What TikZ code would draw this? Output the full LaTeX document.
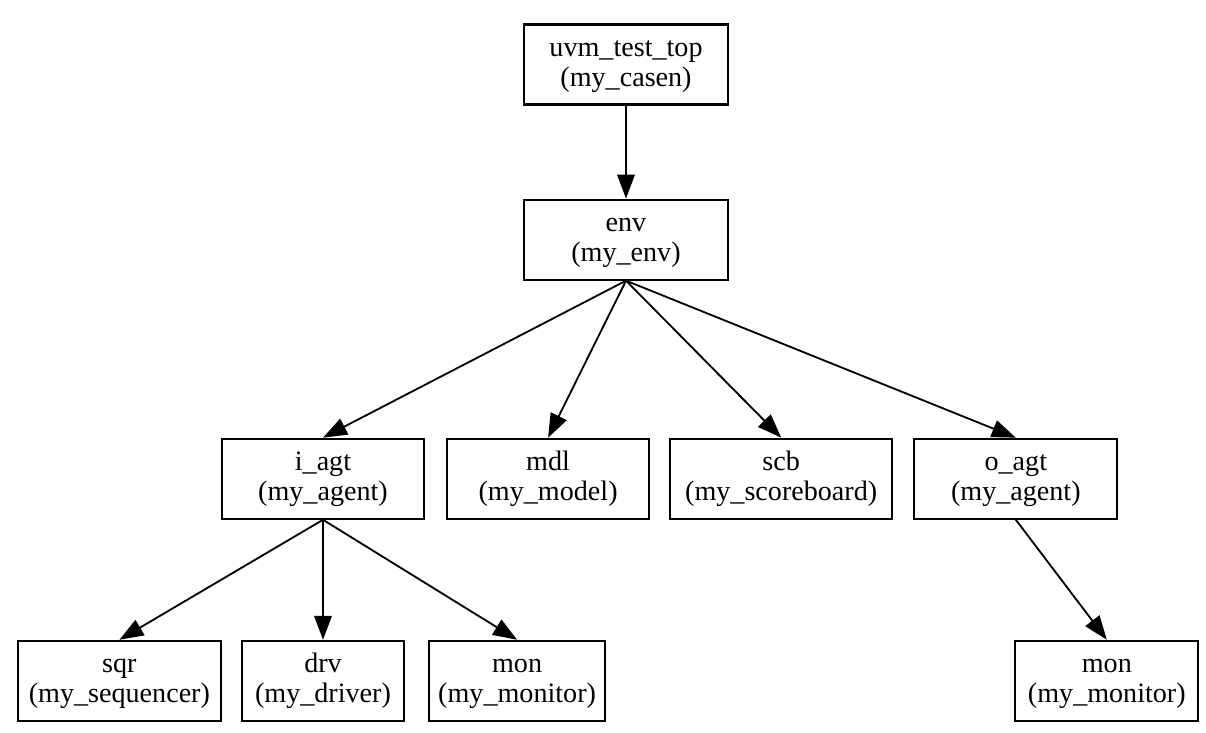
\documentclass[tikz,border=0pt]{standalone}
\usepackage{fontspec}
\setmainfont{Liberation Serif}
\usetikzlibrary{arrows.meta,positioning}
\newcommand{\complabel}[2]{\rule{0pt}{14pt}#1\\#2\rule[-1.5pt]{0pt}{1.5pt}}

\begin{document}
\begin{tikzpicture}[node distance=0.5cm,
  comp/.style={draw,line width=1.5pt,align=center,font=\fontsize{20}{21}\selectfont,minimum height=2cm},
  link/.style={-{Triangle[length=6mm,width=4.4mm]},line width=1.3pt}]
\useasboundingbox (0,0) rectangle (30.15,-18.325);
\node[comp,minimum width=5.1cm] (top) at (15.65,-1.6125) {\complabel{uvm\_test\_top}{(my\_casen)}};
\node[comp,below=2.325cm of top,minimum width=5.1cm] (env) {\complabel{env}{(my\_env)}};
\node[comp,below=3.925cm of env,xshift=-7.575cm,minimum width=5.05cm] (iagt) {\complabel{i\_agt}{(my\_agent)}};
\node[comp,right=0.525cm of iagt,minimum width=5.05cm] (mdl) {\complabel{mdl}{(my\_model)}};
\node[comp,right=0.475cm of mdl,minimum width=5.55cm] (scb) {\complabel{scb}{(my\_scoreboard)}};
\node[comp,right=0.5cm of scb,minimum width=5.075cm] (oagt) {\complabel{o\_agt}{(my\_agent)}};
\node[comp,below=3cm of iagt,minimum width=4.05cm] (drv) {\complabel{drv}{(my\_driver)}};
\node[comp,left=0.475cm of drv,minimum width=5.075cm] (sqr) {\complabel{sqr}{(my\_sequencer)}};
\node[comp,right=0.575cm of drv,minimum width=4.4cm] (imon) {\complabel{mon}{(my\_monitor)}};
\node[comp,below=3cm of oagt,xshift=2.275cm,minimum width=4.575cm] (omon) {\complabel{mon}{(my\_monitor)}};
\draw[link] (top)--(env);
\draw[link] (env.south)--(iagt.north);
\draw[link] (env.south)--(mdl.north);
\draw[link] (env.south)--(scb.north);
\draw[link] (env.south)--(oagt.north);
\draw[link] (iagt.south)--(sqr.north);
\draw[link] (iagt.south)--(drv.north);
\draw[link] (iagt.south)--(imon.north);
\draw[link] (oagt.south)--(omon.north);
\end{tikzpicture}
\end{document}
